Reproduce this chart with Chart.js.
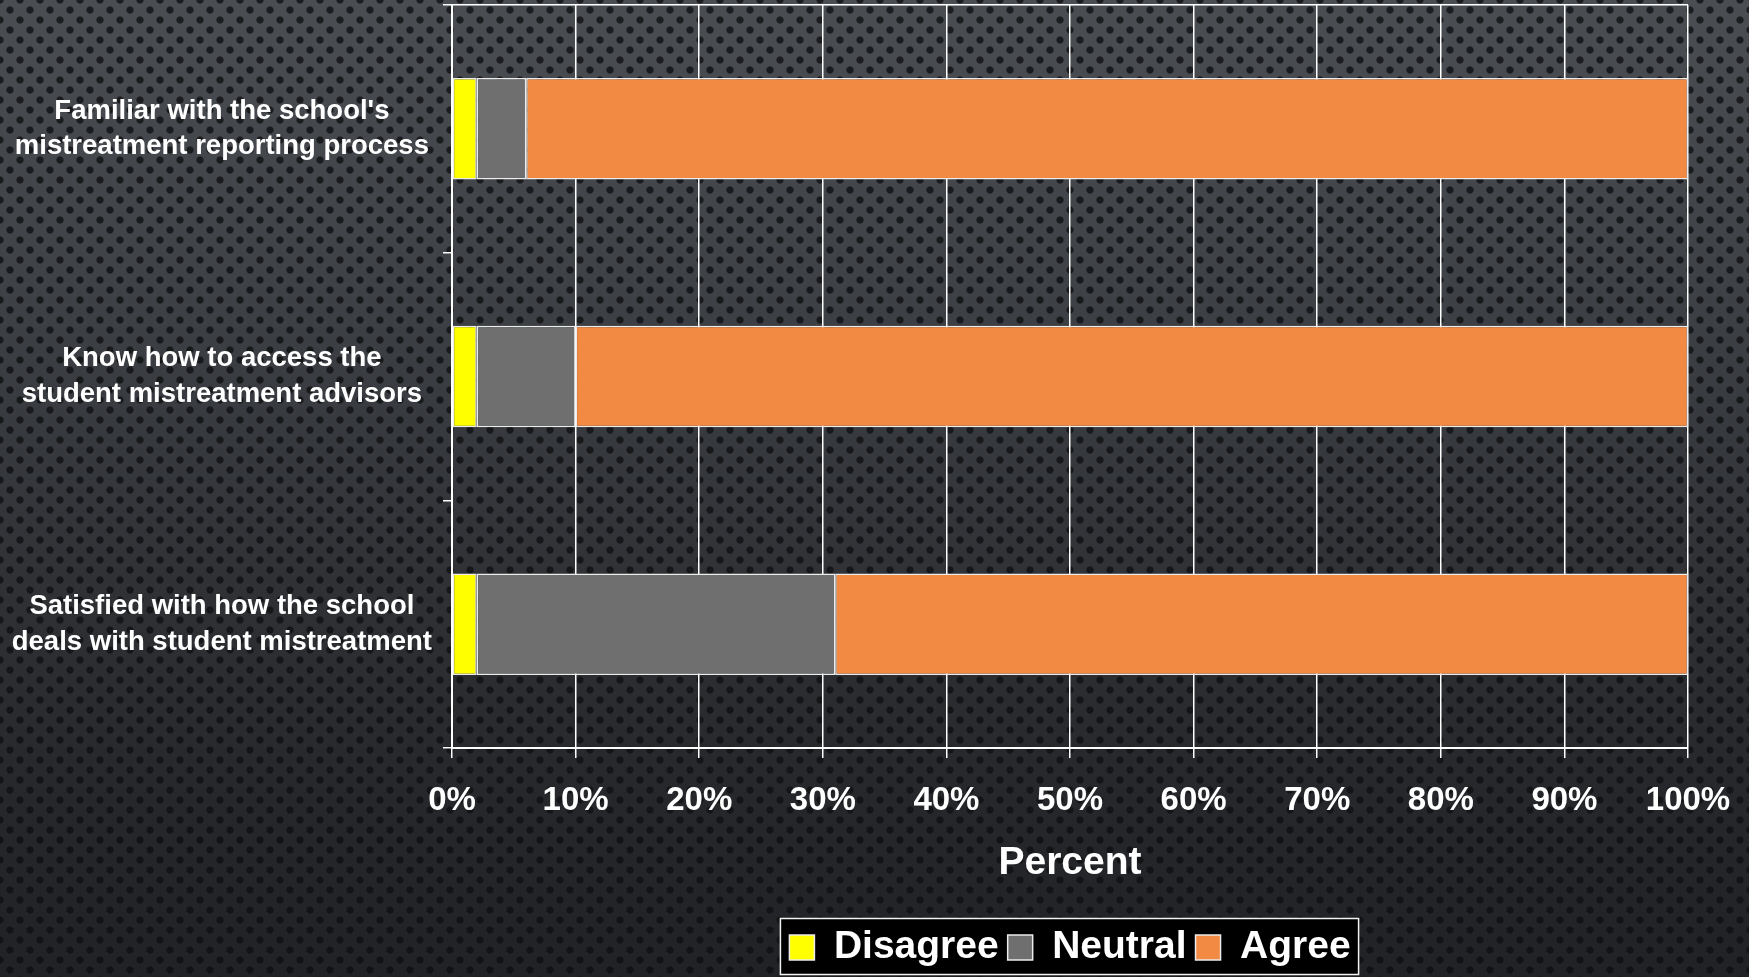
<!DOCTYPE html>
<html>
<head>
<meta charset="utf-8">
<title>Student mistreatment survey</title>
<script src="https://cdn.jsdelivr.net/npm/chart.js@4/dist/chart.umd.min.js"></script>
<style>
  html, body { margin: 0; padding: 0; width: 1749px; height: 977px; overflow: hidden; }
  body {
    /* perforated dark metal backdrop */
    background:
      radial-gradient(circle at 10px 10px, rgba(14,15,17,0.78) 0, rgba(14,15,17,0.78) 3.1px, rgba(14,15,17,0) 4.1px) 0 0 / 20px 20px,
      radial-gradient(circle at 10px 10px, rgba(14,15,17,0.78) 0, rgba(14,15,17,0.78) 3.1px, rgba(14,15,17,0) 4.1px) 10px 10px / 20px 20px,
      linear-gradient(to bottom, #4a4d52 0%, #3f4247 28%, #303236 58%, #25272a 82%, #202225 100%);
  }
  canvas { display: block; }
</style>
</head>
<body>
<canvas id="chart" width="1749" height="977"></canvas>
<script>
// Survey statements (two lines each) and response shares in percent
const categories = [
  ["Familiar with the school's", "mistreatment reporting process"],
  ["Know how to access the", "student mistreatment advisors"],
  ["Satisfied with how the school", "deals with student mistreatment"]
];
const disagree = [2, 2, 2];
const neutral  = [4, 8, 29];
const agree    = [94, 90, 69];
const seriesNames = ["Disagree", "Neutral", "Agree"];
const axisTitle = "Percent";

const WHITE = '#ffffff';
Chart.defaults.font.family = "'Liberation Sans', Arial, Helvetica, sans-serif";
Chart.defaults.color = WHITE;

// Frames the legend in a black box and centres it under the plot area
const legendFrame = {
  id: 'legendFrame',
  afterLayout(chart) {
    const lg = chart.legend, ca = chart.chartArea;
    lg.left = ca.left;
    lg.right = ca.right;
    lg.width = ca.right - ca.left;
  },
  beforeDraw(chart) {
    const boxes = chart.legend.legendHitBoxes;
    if (!boxes || !boxes.length) return;
    let l = Infinity, r = -Infinity, t = Infinity, b = -Infinity;
    boxes.forEach(h => {
      l = Math.min(l, h.left); r = Math.max(r, h.left + h.width);
      t = Math.min(t, h.top);  b = Math.max(b, h.top + h.height);
    });
    const ctx = chart.ctx;
    ctx.save();
    ctx.fillStyle = '#000000';
    ctx.strokeStyle = '#f2f2f2';
    ctx.lineWidth = 1.5;
    const x = l - 9, y = t - 9.5, w = (r + 8) - x, h = (b + 7.5) - y;
    ctx.fillRect(x, y, w, h);
    ctx.strokeRect(x, y, w, h);
    ctx.restore();
  }
};

const segmentStyle = { borderColor: '#ececec', borderWidth: 1.5, borderSkipped: false,
                       barPercentage: 0.41, categoryPercentage: 1.0 };

new Chart(document.getElementById('chart'), {
  type: 'bar',
  data: {
    labels: categories,
    datasets: [
      Object.assign({ label: seriesNames[0], data: disagree, backgroundColor: '#ffff00' }, segmentStyle),
      Object.assign({ label: seriesNames[1], data: neutral,  backgroundColor: '#6f6f6f' }, segmentStyle),
      Object.assign({ label: seriesNames[2], data: agree,    backgroundColor: '#f28a43' }, segmentStyle)
    ]
  },
  options: {
    indexAxis: 'y',
    responsive: false,
    animation: false,
    layout: { padding: { left: 0, right: 61, top: 5, bottom: 0 } },
    plugins: {
      tooltip: { enabled: false },
      legend: {
        position: 'bottom',
        labels: {
          color: WHITE,
          font: { size: 39, weight: 'bold' },
          boxWidth: 25,
          boxHeight: 25,
          padding: 9
        }
      }
    },
    scales: {
      x: {
        stacked: true,
        min: 0,
        max: 100,
        ticks: {
          stepSize: 10,
          color: WHITE,
          font: { size: 33, weight: 'bold' },
          padding: 23.5,
          maxRotation: 0,
          autoSkip: false,
          callback: v => v + '%'
        },
        grid: { color: WHITE, lineWidth: 1.5, tickLength: 10 },
        border: { color: WHITE, width: 2 },
        title: {
          display: true,
          text: axisTitle,
          color: WHITE,
          font: { size: 39, weight: 'bold' },
          padding: { top: 0, bottom: 32.6 }
        },
        afterFit(s) { s.height = 171; s.paddingLeft = 0; s.paddingRight = 0; }
      },
      y: {
        stacked: true,
        grid: {
          offset: true,
          drawOnChartArea: true,
          color: c => c.index === 0 ? WHITE : 'rgba(0,0,0,0)',
          tickColor: WHITE,
          tickLength: 9,
          lineWidth: 1.5
        },
        border: { color: WHITE, width: 2 },
        ticks: {
          color: WHITE,
          crossAlign: 'center',
          padding: 11,
          font: { size: 27.5, weight: 'bold', lineHeight: 1.3 }
        },
        afterFit(s) { s.width = 452; s.paddingTop = 0; s.paddingBottom = 0; }
      }
    }
  },
  plugins: [legendFrame]
});
</script>
</body>
</html>
